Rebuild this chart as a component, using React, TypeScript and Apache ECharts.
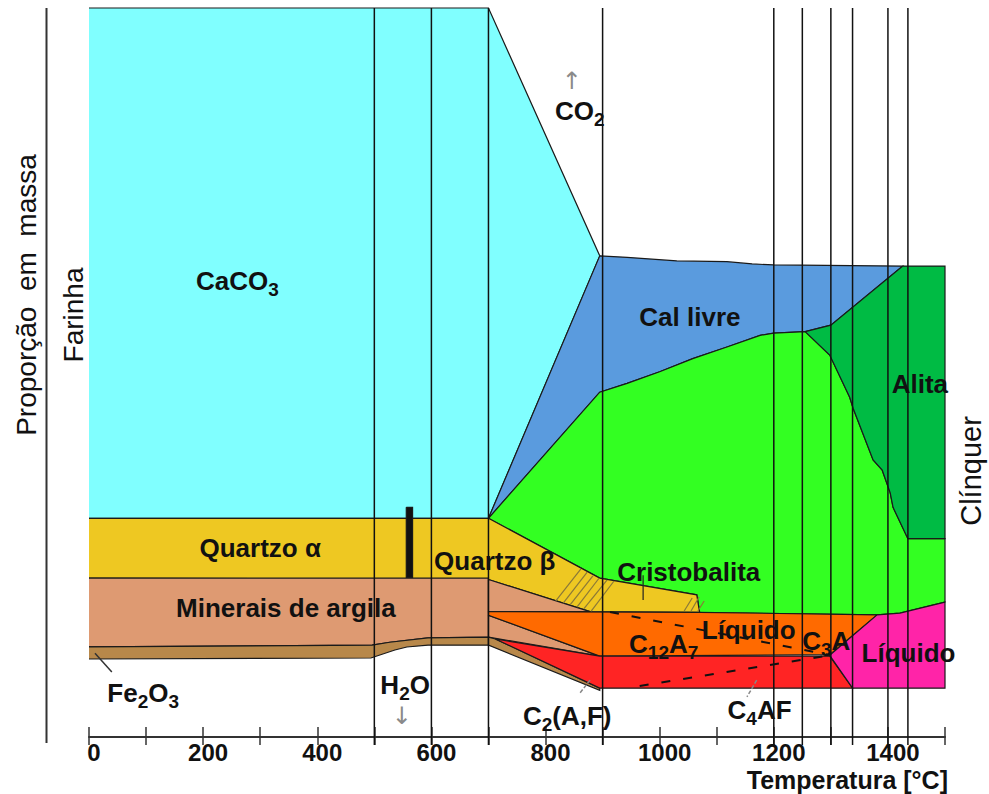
import React, { useEffect, useRef } from 'react';
import * as echarts from 'echarts';

const FONT = '"Liberation Sans", Arial, Helvetica, sans-serif';
const ARROW_FONT = '"DejaVu Sans", "Liberation Sans", sans-serif';

// ---- axis ----
const X_MIN = 0;
const X_MAX = 1500;
const X_TICK = 100;
const X_LABEL_STEP = 200;

// ---- phase regions: [temperature °C, mass proportion %] ----
const CACO3 = [[0, 100], [700, 100], [895, 66], [700, 30], [0, 30]];
const CAL_LIVRE = [[895, 66], [943, 65.8], [1030, 65.3], [1118, 65.2], [1162, 64.9], [1200, 64.75], [1426, 64.6], [1300, 56.5], [1255, 55.6], [1200, 55.4], [1176, 55.1], [1118, 53.5], [1058, 51.9], [1000, 50.1], [943, 48.5], [895, 47.3], [700, 30]];
const BELITA = [[700, 30], [895, 47.3], [943, 48.5], [1000, 50.1], [1058, 51.9], [1118, 53.5], [1176, 55.1], [1200, 55.4], [1255, 55.6], [1298, 52.4], [1333, 46.6], [1339, 45.1], [1374, 38.0], [1390, 36.6], [1404, 33.5], [1409, 31.5], [1435, 27.2], [1500, 27.2], [1500, 18.5], [1421, 17.0], [1381, 16.75], [1070, 17.1], [1065, 19.5], [895, 21.8]];
const ALITA = [[1255, 55.6], [1300, 56.5], [1426, 64.6], [1500, 64.6], [1500, 27.2], [1435, 27.2], [1409, 31.5], [1404, 33.5], [1390, 36.6], [1374, 38.0], [1339, 45.1], [1333, 46.6], [1298, 52.4]];
const QUARTZO = [[0, 30], [700, 30], [895, 21.8], [1065, 19.5], [1070, 17.1], [878, 17.2], [700, 21.6], [0, 21.8]];
const ARGILA = [[0, 21.8], [700, 21.8], [700, 13.7], [594, 13.6], [527, 13.0], [496, 12.6], [0, 12.35]];
const ARGILA_UPPER = [[700, 21.6], [878, 17.2], [700, 17.2]];
const ARGILA_LOWER = [[700, 16.7], [895, 11.1], [700, 13.7]];
const FE2O3 = [[0, 12.35], [496, 12.6], [527, 13.0], [594, 13.6], [700, 13.7], [700, 12.6], [594, 12.6], [557, 12.35], [536, 11.93], [494, 10.84], [0, 10.7]];
const FE2O3_RIGHT = [[700, 13.7], [712, 13.45], [895, 6.7], [895, 6.4], [700, 12.6]];
const C12A7 = [[700, 17.2], [1070, 17.1], [1381, 16.75], [1298, 11.3], [895, 11.1], [700, 16.7]];
const C4AF = [[712, 13.45], [895, 11.1], [1298, 11.1], [1338, 6.7], [895, 6.7]];
const LIQUIDO = [[1381, 16.75], [1421, 17.0], [1500, 18.5], [1500, 6.7], [1338, 6.7], [1298, 11.2]];
const H2O_MARK = [[556, 31.5], [567, 31.5], [567, 21.9], [556, 21.9]];

// ---- temperature lines ----
const PHASE_TEMPS = [500, 600, 700, 900, 1200, 1250, 1300, 1338, 1400, 1435];

// ---- dashed liquid boundaries, hatching, leaders ----
const LIQ_UPPER = [[913, 17.15], [1298, 11.25]];
const LIQ_LOWER = [[965, 7.0], [1298, 11.2]];
const HATCH = [
  [[818, 18.66], [862, 23.05]],
  [[831, 18.38], [873, 22.63]],
  [[843, 18.11], [883, 22.09]],
  [[855, 17.83], [894, 21.81]],
  [[867, 17.56], [908, 21.54]],
  [[880, 17.28], [920, 21.4]],
  [[1043, 17.28], [1057, 19.07]],
  [[1055, 17.28], [1069, 19.2]],
  [[1067, 17.28], [1078, 18.66]],
];
const FE_LEADER = [[10.5, 11.5], [40, 8.9]];
const C2AF_LEADER = [[878, 7.8], [860, 6.0]];
const C4AF_LEADER = [[1170, 7.8], [1153, 5.5]];
const CRISTO_TICK = [[971, 22.2], [971, 18.8]];

// ---- annotation texts ----
const LABELS = [
  { text: '{m|CaCO}{s|3}', at: [260, 62.4] },
  { text: '{m|Cal livre}', at: [1053, 57.5] },
  { text: '{m|Alita}', at: [1456, 48.3] },
  { text: '{m|Quartzo α}', at: [300, 25.8] },
  { text: '{m|Quartzo β}', at: [711, 24.0] },
  { text: '{m|Cristobalita}', at: [1051, 22.56] },
  { text: '{m|Minerais de argila}', at: [345, 17.56] },
  { text: '{m|C}{s|12}{m|A}{s|7}', at: [1007, 12.6] },
  { text: '{m|Líquido}', at: [1156, 14.54] },
  { text: '{m|C}{s|3}{m|A}', at: [1292, 13.1] },
  { text: '{m|Líquido}', at: [1436, 11.45] },
  { text: '{m|Fe}{s|2}{m|O}{s|3}', at: [95, 5.85] },
  { text: '{m|H}{s|2}{m|O}', at: [554, 7.0] },
  { text: '{m|CO}{s|2}', at: [860, 85.7] },
  { text: '{m|C}{s|2}{m|(A,F)}', at: [838, 2.7] },
  { text: '{m|C}{s|4}{m|AF}', at: [1175, 3.5] },
  { text: '{a|↑}', at: [846, 90.2] },
  { text: '{a|↓}', at: [548, 3.1] },
];

const REGIONS = [
  { pts: CACO3, color: '#80FFFF' },
  { pts: CAL_LIVRE, color: '#5A9BDE' },
  { pts: BELITA, color: '#33FF22' },
  { pts: ALITA, color: '#00BB44' },
  { pts: QUARTZO, color: '#EEC822' },
  { pts: ARGILA, color: '#DE9A72' },
  { pts: ARGILA_UPPER, color: '#DE9A72' },
  { pts: ARGILA_LOWER, color: '#DE9A72' },
  { pts: FE2O3, color: '#B8884A' },
  { pts: FE2O3_RIGHT, color: '#B8884A' },
  { pts: C12A7, color: '#FF6A00' },
  { pts: C4AF, color: '#FF2424' },
  { pts: LIQUIDO, color: '#FF24A8' },
  { pts: H2O_MARK, color: '#111111' },
];

const DECOR = [
  ...HATCH.map((p) => ({ pts: p, color: '#8a7838', width: 1.2, dash: null as any })),
  { pts: LIQ_UPPER, color: '#111', width: 2, dash: [9, 13] },
  { pts: LIQ_LOWER, color: '#111', width: 2, dash: [9, 13] },
  { pts: FE_LEADER, color: '#333', width: 1.5, dash: null },
  { pts: C2AF_LEADER, color: '#888', width: 1.5, dash: [4, 2] },
  { pts: C4AF_LEADER, color: '#888', width: 1.5, dash: [4, 2] },
  { pts: CRISTO_TICK, color: '#222', width: 1.2, dash: null },
];

const VLINES = PHASE_TEMPS.map((t) => ({ pts: [[t, 100], [t, -1.1]] }));

const RICH: any = {
  m: { fontSize: 26, fontWeight: 'bold', fontFamily: FONT, lineHeight: 28, verticalAlign: 'top', fill: '#111' },
  s: { fontSize: 19, fontWeight: 'bold', fontFamily: FONT, lineHeight: 19, padding: [12, 0, 0, 0], verticalAlign: 'top', fill: '#111' },
  a: { fontSize: 24, fontWeight: 'normal', fontFamily: ARROW_FONT, lineHeight: 20, verticalAlign: 'top', fill: '#8a8a8a' },
};

function renderRegion(params: any, api: any) {
  const r = REGIONS[params.dataIndex];
  const n = r.pts.length;
  const px = r.pts.map((p) => api.coord(p));
  let start = -1;
  for (let i = 0; i < n; i++) {
    const a = r.pts[i];
    const b = r.pts[(i + 1) % n];
    if (a[0] === X_MIN && b[0] === X_MIN) {
      start = (i + 1) % n;
      break;
    }
  }
  const outline =
    start < 0
      ? [...px, px[0]]
      : Array.from({ length: n }, (_, k) => px[(start + k) % n]);
  return {
    type: 'group',
    children: [
      { type: 'polygon', shape: { points: px }, style: { fill: r.color, stroke: 'none' } },
      { type: 'polyline', shape: { points: outline }, style: { fill: 'none', stroke: '#1a1a1a', lineWidth: 1.2 } },
    ],
  };
}

function renderDecor(params: any, api: any) {
  const d = DECOR[params.dataIndex];
  return {
    type: 'polyline',
    shape: { points: d.pts.map((p: number[]) => api.coord(p)) },
    style: { fill: 'none', stroke: d.color, lineWidth: d.width, lineDash: d.dash || undefined },
  };
}

function renderLabel(params: any, api: any) {
  const l = LABELS[params.dataIndex];
  const p = api.coord(l.at);
  return {
    type: 'text',
    x: p[0],
    y: p[1],
    style: {
      text: l.text,
      rich: RICH,
      fill: '#111',
      fontFamily: FONT,
      fontSize: 26,
      fontWeight: 'bold',
      align: 'center',
      verticalAlign: 'middle',
    },
  };
}

function renderVLine(params: any, api: any) {
  const v = VLINES[params.dataIndex];
  return {
    type: 'polyline',
    shape: { points: v.pts.map((p) => api.coord(p)) },
    style: { fill: 'none', stroke: '#111', lineWidth: 1.5 },
  };
}

function buildOption(): any {
  return {
    animation: false,
    backgroundColor: '#ffffff',
    grid: { left: 89, right: 44, top: 8, bottom: 57, containLabel: false },
    xAxis: [
      {
        type: 'value',
        min: X_MIN,
        max: X_MAX,
        interval: X_TICK,
        position: 'bottom',
        axisLine: { show: true, onZero: false, lineStyle: { color: '#333', width: 2 } },
        axisTick: { show: true, length: 8, lineStyle: { color: '#333', width: 1.5 } },
        axisLabel: {
          show: true,
          margin: 5,
          lineHeight: 20,
          padding: [0, 0, 0, 10],
          fontSize: 24,
          fontWeight: 'bold',
          fontFamily: FONT,
          color: '#111',
          formatter: (v: number) => (v % X_LABEL_STEP === 0 ? String(v) : ''),
        },
        splitLine: { show: false },
      },
      {
        type: 'value',
        min: X_MIN,
        max: X_MAX,
        interval: X_TICK,
        position: 'bottom',
        axisLine: { show: false, onZero: false },
        axisTick: { show: true, inside: true, length: 10, lineStyle: { color: '#333', width: 1.5 } },
        axisLabel: { show: false },
        splitLine: { show: false },
      },
    ],
    yAxis: { type: 'value', min: 0, max: 100, show: false },
    series: [
      { type: 'custom', z: 1, clip: false, silent: true, renderItem: renderRegion, data: REGIONS.map((r) => r.pts[0]) },
      { type: 'custom', z: 2, clip: false, silent: true, renderItem: renderDecor, data: DECOR.map((d) => d.pts[0]) },
      { type: 'custom', z: 3, clip: false, silent: true, renderItem: renderLabel, data: LABELS.map((l) => l.at) },
      { type: 'custom', z: 4, clip: false, silent: true, renderItem: renderVLine, data: VLINES.map((v) => v.pts[0]) },
    ],
    graphic: [
      { type: 'line', shape: { x1: 46.5, y1: 8, x2: 46.5, y2: 743 }, style: { stroke: '#333', lineWidth: 2 } },
      {
        type: 'text', x: 26, y: 295, rotation: Math.PI / 2,
        style: { text: 'Proporção  em  massa', fontSize: 28, fontFamily: FONT, fill: '#111', align: 'center', verticalAlign: 'middle' },
      },
      {
        type: 'text', x: 73, y: 315, rotation: Math.PI / 2,
        style: { text: 'Farinha', fontSize: 28, fontFamily: FONT, fill: '#111', align: 'center', verticalAlign: 'middle' },
      },
      {
        type: 'text', x: 971, y: 471, rotation: Math.PI / 2,
        style: { text: 'Clínquer', fontSize: 29, fontFamily: FONT, fill: '#111', align: 'center', verticalAlign: 'middle' },
      },
      {
        type: 'text', x: 948, y: 780,
        style: { text: 'Temperatura [°C]', fontSize: 25, lineHeight: 22, fontWeight: 'bold', fontFamily: FONT, fill: '#111', align: 'right', verticalAlign: 'middle' },
      },
    ],
  };
}

export default function App() {
  const ref = useRef<HTMLDivElement>(null);
  useEffect(() => {
    if (!ref.current) return;
    const chart = echarts.init(ref.current, null, { renderer: 'svg' });
    chart.setOption(buildOption());
    return () => chart.dispose();
  }, []);
  return (
    <div
      ref={ref}
      style={{ position: 'fixed', left: 0, top: 0, width: 989, height: 794, background: '#fff' }}
    />
  );
}
